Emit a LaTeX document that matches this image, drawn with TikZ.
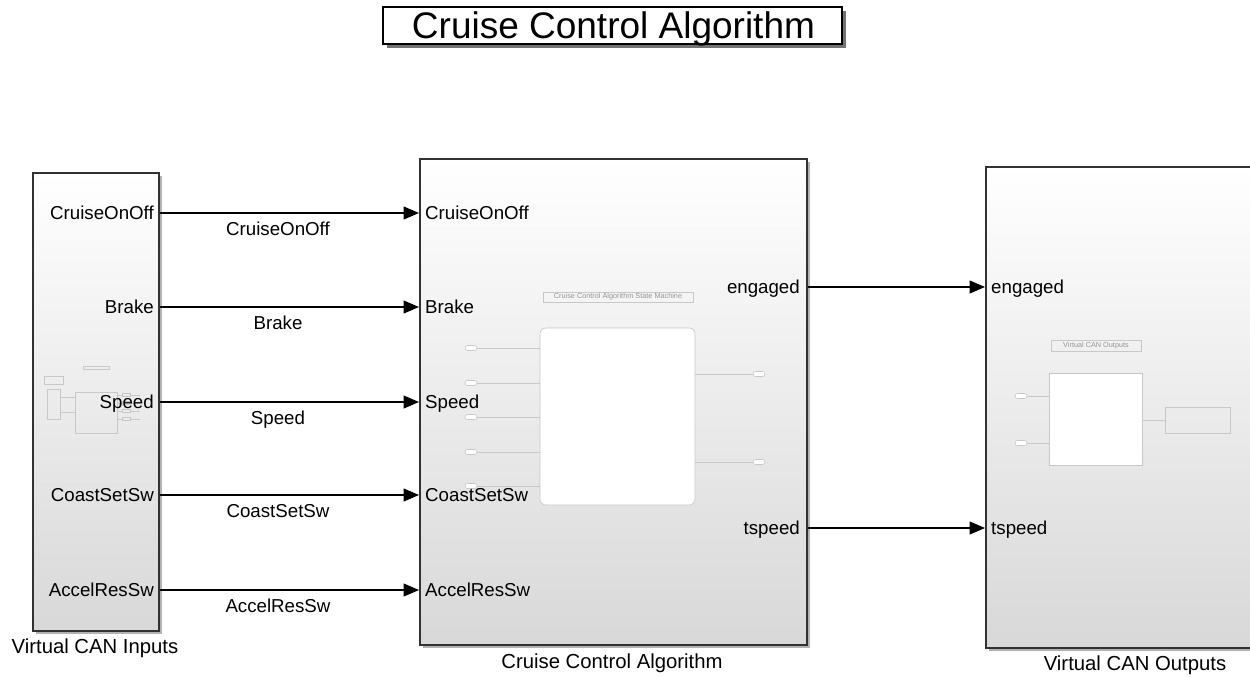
\documentclass[tikz,border=0pt]{standalone}
\usepackage{fontspec}
\setmainfont{Liberation Sans}
\usetikzlibrary{arrows.meta,shadows}
\definecolor{edgec}{RGB}{50,50,50}
\definecolor{midc}{RGB}{246,246,246}
\definecolor{botc}{RGB}{216,216,216}
\definecolor{faintc}{RGB}{200,200,200}
\definecolor{fainttxt}{RGB}{150,150,150}
\tikzset{
  blk/.style={draw=edgec, line width=1.6pt, inner sep=0pt, anchor=north west,
    top color=white, middle color=midc, bottom color=botc,
    drop shadow={shadow xshift=3pt, shadow yshift=-3pt, fill=black, opacity=0.3}},
  ttl/.style={draw=black, line width=1.4pt, fill=white, inner sep=0pt,
    minimum width=459pt, minimum height=37pt,
    drop shadow={shadow xshift=4pt, shadow yshift=-4pt, fill=black, opacity=0.55}},
  ttltext/.style={inner sep=0pt, anchor=base, font=\fontsize{37}{37}\selectfont},
  portl/.style={inner sep=0pt, font=\fontsize{18.7}{18.7}\selectfont},
  sigl/.style={inner sep=0pt, anchor=base, font=\fontsize{18.7}{18.7}\selectfont},
  bname/.style={inner sep=0pt, anchor=base, font=\fontsize{20.3}{20.3}\selectfont},
  sig/.style={line width=1.1pt, -{Triangle[length=15.5pt,width=13pt]}},
  faint/.style={draw=faintc, line width=0.6pt},
  oval/.style={draw=faintc, line width=0.6pt, fill=white, rounded corners=2.5pt,
    minimum width=12pt, minimum height=5pt, inner sep=0pt},
  tiny/.style={inner sep=0pt, text=fainttxt, font=\fontsize{7.3}{7.3}\selectfont}
}
\begin{document}
\begin{tikzpicture}[x=1pt,y=1pt]
\useasboundingbox (0,0) rectangle (1250,-677);
\clip (0,0) rectangle (1250,-677);

% title
\node[ttl] (title) at (612.5,-25.5) {};
\node[ttltext] (titletext) at (613.5,-39) {Cruise Control Algorithm};

% blocks
\node[blk, minimum width=126pt, minimum height=458pt] (L) at (32,-172) {};
\node[blk, minimum width=387pt, minimum height=486pt] (M) at (419,-158) {};
\node[blk, minimum width=290pt, minimum height=481pt] (R) at (985,-166) {};

% block names
\node[bname] (Ln) at (95,-653) {Virtual CAN Inputs};
\node[bname] (Mn) at (612,-668.5) {Cruise Control Algorithm};
\node[bname] (Rn) at (1135,-670.5) {Virtual CAN Outputs};

% faint contents: left block
\draw[faint] (83,-366) rectangle (109,-369.5);
\draw[faint] (44,-376) rectangle (63,-384);
\draw[faint] (47,-389) rectangle (60,-419);
\draw[faint] (75,-392) rectangle (117,-433);
\draw[faint] (60,-397) -- (75,-397) (60,-412) -- (75,-412);
\foreach \yy in {395,403,411,419}{
  \draw[faint] (117,-\yy) -- (122,-\yy);
  \draw[faint] (122,-\yy+1.5) rectangle (130,-\yy-1.5);
  \draw[faint] (130,-\yy) -- (140,-\yy);
}

% faint contents: middle block
\draw[faint] (543,-292) rectangle (693,-302);
\node[tiny] (Mt) at (618,-297) {Cruise Control Algorithm State Machine};
\draw[faint, fill=white, rounded corners=6pt] (540,-328) rectangle (695,-505);
\foreach \yy/\nm in {348/a,383/b,417/c,452/d,486/e}{
  \node[oval] (mi\nm) at (471,-\yy) {};
  \draw[faint] (mi\nm.east) -- (540,-\yy);
}
\foreach \yy/\nm in {374/a,462/b}{
  \node[oval] (mo\nm) at (759,-\yy) {};
  \draw[faint] (695,-\yy) -- (mo\nm.west);
}

% faint contents: right block
\draw[faint] (1051,-340) rectangle (1141,-351);
\node[tiny] (Rt) at (1096,-345.5) {Virtual CAN Outputs};
\draw[faint, fill=white] (1049,-373) rectangle (1142,-465);
\foreach \yy/\nm in {396/a,443/b}{
  \node[oval] (ri\nm) at (1021,-\yy) {};
  \draw[faint] (ri\nm.east) -- (1049,-\yy);
}
\draw[faint] (1142,-420) -- (1165,-420);
\draw[faint] (1165,-407) rectangle (1230,-433);

% port labels and connectors (inputs)
\foreach \yy/\lab/\nm in {213/CruiseOnOff/a,307/Brake/b,402/Speed/c,495/CoastSetSw/d,590/AccelResSw/e}{
  \node[portl, anchor=base east] (lo\nm) at (154,-\yy-6.7) {\lab};
  \node[portl, anchor=base west] (mi\nm l) at (425,-\yy-6.7) {\lab};
  \coordinate (Ls\nm) at (L.east |- 0,-\yy);
  \coordinate (Ms\nm) at (M.west |- 0,-\yy);
  \draw[sig] (Ls\nm) -- (Ms\nm);
  \node[sigl] (sl\nm) at (278,-\yy-22) {\lab};
}

% outputs
\foreach \yy/\lab/\nm in {287/engaged/a,528/tspeed/b}{
  \node[portl, anchor=base east] (mo\nm l) at (800,-\yy-6.7) {\lab};
  \node[portl, anchor=base west] (ri\nm l) at (991,-\yy-6.7) {\lab};
  \coordinate (Mo\nm) at (M.east |- 0,-\yy);
  \coordinate (Ri\nm) at (R.west |- 0,-\yy);
  \draw[sig] (Mo\nm) -- (Ri\nm);
}
\end{tikzpicture}
\end{document}
